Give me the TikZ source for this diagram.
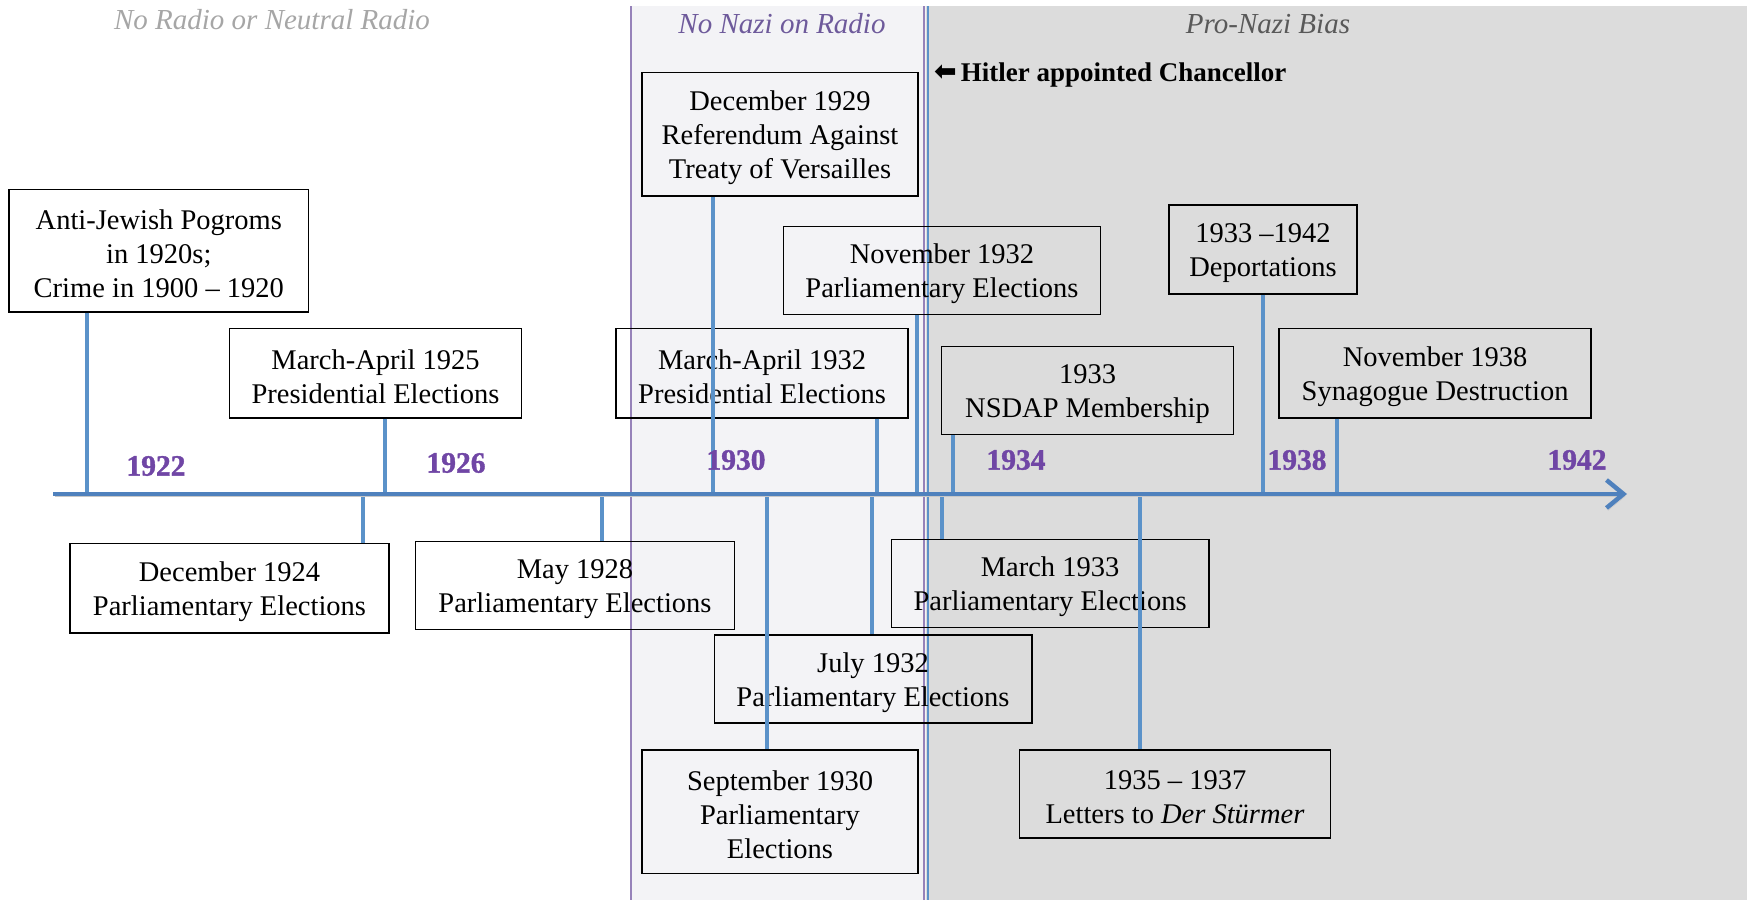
\documentclass[tikz,border=0pt]{standalone}
\usepackage{fontspec}
\setmainfont{Liberation Serif}
\newfontfamily\dejavu{DejaVu Sans}
\newfontfamily\yearfont[FakeBold=1.2]{Liberation Serif Bold}
\newcommand\tstrut{\rule{0pt}{26.5pt}}
\usetikzlibrary{arrows.meta}
\definecolor{axisblue}{RGB}{79,129,189}
\definecolor{connblue}{RGB}{91,146,201}
\definecolor{yearpurple}{RGB}{112,70,165}
\definecolor{lavband}{RGB}{243,243,246}
\definecolor{grayband}{RGB}{220,220,220}
\definecolor{bandline}{RGB}{150,130,185}
\definecolor{labgray}{RGB}{166,166,166}
\definecolor{labpurple}{RGB}{110,90,155}
\definecolor{labdark}{RGB}{89,89,89}
\begin{document}
\begin{tikzpicture}[x=1pt,y=-1pt,
  evbox/.style={draw=black, line width=1.4pt, inner sep=0pt, align=center,
    font=\fontsize{28.5}{34}\selectfont},
  conn/.style={draw=connblue, line width=4pt},
  timeaxis/.style={draw=axisblue, line width=4.5pt, -{Straight Barb[length=17pt,width=28pt]},
    preaction={draw=black!22, transform canvas={shift={(1.5pt,-2.5pt)}}}},
  yearlab/.style={text=yearpurple, font=\fontsize{29.5}{34}\yearfont, inner sep=0pt},
  bandlab/.style={font=\fontsize{29}{34}\selectfont\itshape, inner sep=0pt},
]
\useasboundingbox (0,0) rectangle (1747,900);
% background bands
\fill[lavband] (631,6) rectangle (926,900);
\fill[grayband] (926,6) rectangle (1747,900);
\draw[bandline, line width=2pt] (631,6) -- (631,900);
\draw[bandline, line width=1.5pt] (924,6) -- (924,900);
\draw[connblue, line width=2pt] (928,6) -- (928,900);

% band labels
\node[bandlab, text=labgray] (lab1) at (272,20) {No Radio or Neutral Radio};
\node[bandlab, text=labpurple] (lab2) at (782,24) {No Nazi on Radio};
\node[bandlab, text=labdark] (lab3) at (1268,24) {Pro-Nazi Bias};
\node[anchor=west, inner sep=0pt, font=\fontsize{27}{30}\selectfont\bfseries] (hitler) at (934,75)
  {{\dejavu\fontsize{27}{30}\selectfont\raisebox{1pt}{⬅}}\hspace{4pt}Hitler appointed Chancellor};

% event boxes
\node[evbox, minimum width=299.7pt, minimum height=122.6pt] (pog) at (158.8,250.7) {\tstrut Anti-Jewish Pogroms\\in 1920s;\\Crime in 1900 – 1920};
\node[evbox, minimum width=291.9pt, minimum height=89.1pt] (pe25) at (375.5,373.3) {\tstrut March-April 1925\\Presidential Elections};
\node[evbox, minimum width=318.7pt, minimum height=89.1pt] (pa24) at (229.5,588.3) {\tstrut December 1924\\Parliamentary Elections};
\node[evbox, minimum width=318.7pt, minimum height=88pt] (pa28) at (575,585.5) {\tstrut May 1928\\Parliamentary Elections};
\node[evbox, minimum width=276.3pt, minimum height=123.7pt] (ref29) at (780,134.3) {\tstrut December 1929\\Referendum Against\\Treaty of Versailles};
\node[evbox, minimum width=291.9pt, minimum height=89.1pt] (pe32) at (762.1,373.3) {\tstrut March-April 1932\\Presidential Elections};
\node[evbox, minimum width=317.5pt, minimum height=88pt] (pan32) at (942,270.2) {\tstrut November 1932\\Parliamentary Elections};
\node[evbox, minimum width=291.9pt, minimum height=88pt] (nsdap) at (1087.5,390.5) {\tstrut 1933\\NSDAP Membership};
\node[evbox, minimum width=188.3pt, minimum height=89.1pt] (dep) at (1263,249.6) {\tstrut 1933 –1942\\Deportations};
\node[evbox, minimum width=312pt, minimum height=89.1pt] (syn) at (1435.1,373.3) {\tstrut November 1938\\Synagogue Destruction};
\node[evbox, minimum width=317.5pt, minimum height=88pt] (pa33) at (1050.1,583.3) {\tstrut March 1933\\Parliamentary Elections};
\node[evbox, minimum width=317.6pt, minimum height=88pt] (paj32) at (873,679.1) {\tstrut July 1932\\Parliamentary Elections};
\node[evbox, minimum width=276.3pt, minimum height=123.7pt] (pa30) at (780,811.7) {\tstrut September 1930\\Parliamentary\\Elections};
\node[evbox, minimum width=310.9pt, minimum height=88pt] (let) at (1175,793.9) {\tstrut 1935 – 1937\\Letters to \textit{Der Stürmer}};

% axis anchor points
\coordinate (axstart) at (53,494);
\coordinate (axend) at (1627,494);
\coordinate (apog) at (87,494);
\coordinate (ape25) at (385,494);
\coordinate (apa24) at (363,494);
\coordinate (apa28) at (602,494);
\coordinate (aref29) at (713,494);
\coordinate (apa30) at (767,494);
\coordinate (ape32) at (877,494);
\coordinate (apaj32) at (872,494);
\coordinate (apan32) at (917,494);
\coordinate (apa33) at (942,494);
\coordinate (ansdap) at (953,494);
\coordinate (adep) at (1263,494);
\coordinate (alet) at (1140,494);
\coordinate (asyn) at (1337,494);

% connectors above the axis
\draw[conn] (apog |- pog.south) -- (apog);
\draw[conn] (ape25 |- pe25.south) -- (ape25);
\draw[conn] (aref29 |- ref29.south) -- (aref29);
\draw[conn] (ape32 |- pe32.south) -- (ape32);
\draw[conn] (apan32 |- pan32.south) -- (apan32);
\draw[conn] (ansdap |- nsdap.south) -- (ansdap);
\draw[conn] (adep |- dep.south) -- (adep);
\draw[conn] (asyn |- syn.south) -- (asyn);
% connectors below the axis
\draw[conn] (apa24) -- (apa24 |- pa24.north);
\draw[conn] (apa28) -- (apa28 |- pa28.north);
\draw[conn] (apa30) -- (apa30 |- pa30.north);
\draw[conn] (apaj32) -- (apaj32 |- paj32.north);
\draw[conn] (apa33) -- (apa33 |- pa33.north);
\draw[conn] (alet) -- (alet |- let.north);

% axis
\draw[timeaxis] (axstart) -- (axend);

% year labels
\node[yearlab] (y1922) at (156,466) {1922};
\node[yearlab] (y1926) at (456,463) {1926};
\node[yearlab] (y1930) at (736,460) {1930};
\node[yearlab] (y1934) at (1016,460) {1934};
\node[yearlab] (y1938) at (1297,460) {1938};
\node[yearlab] (y1942) at (1577,460) {1942};
\end{tikzpicture}
\end{document}
